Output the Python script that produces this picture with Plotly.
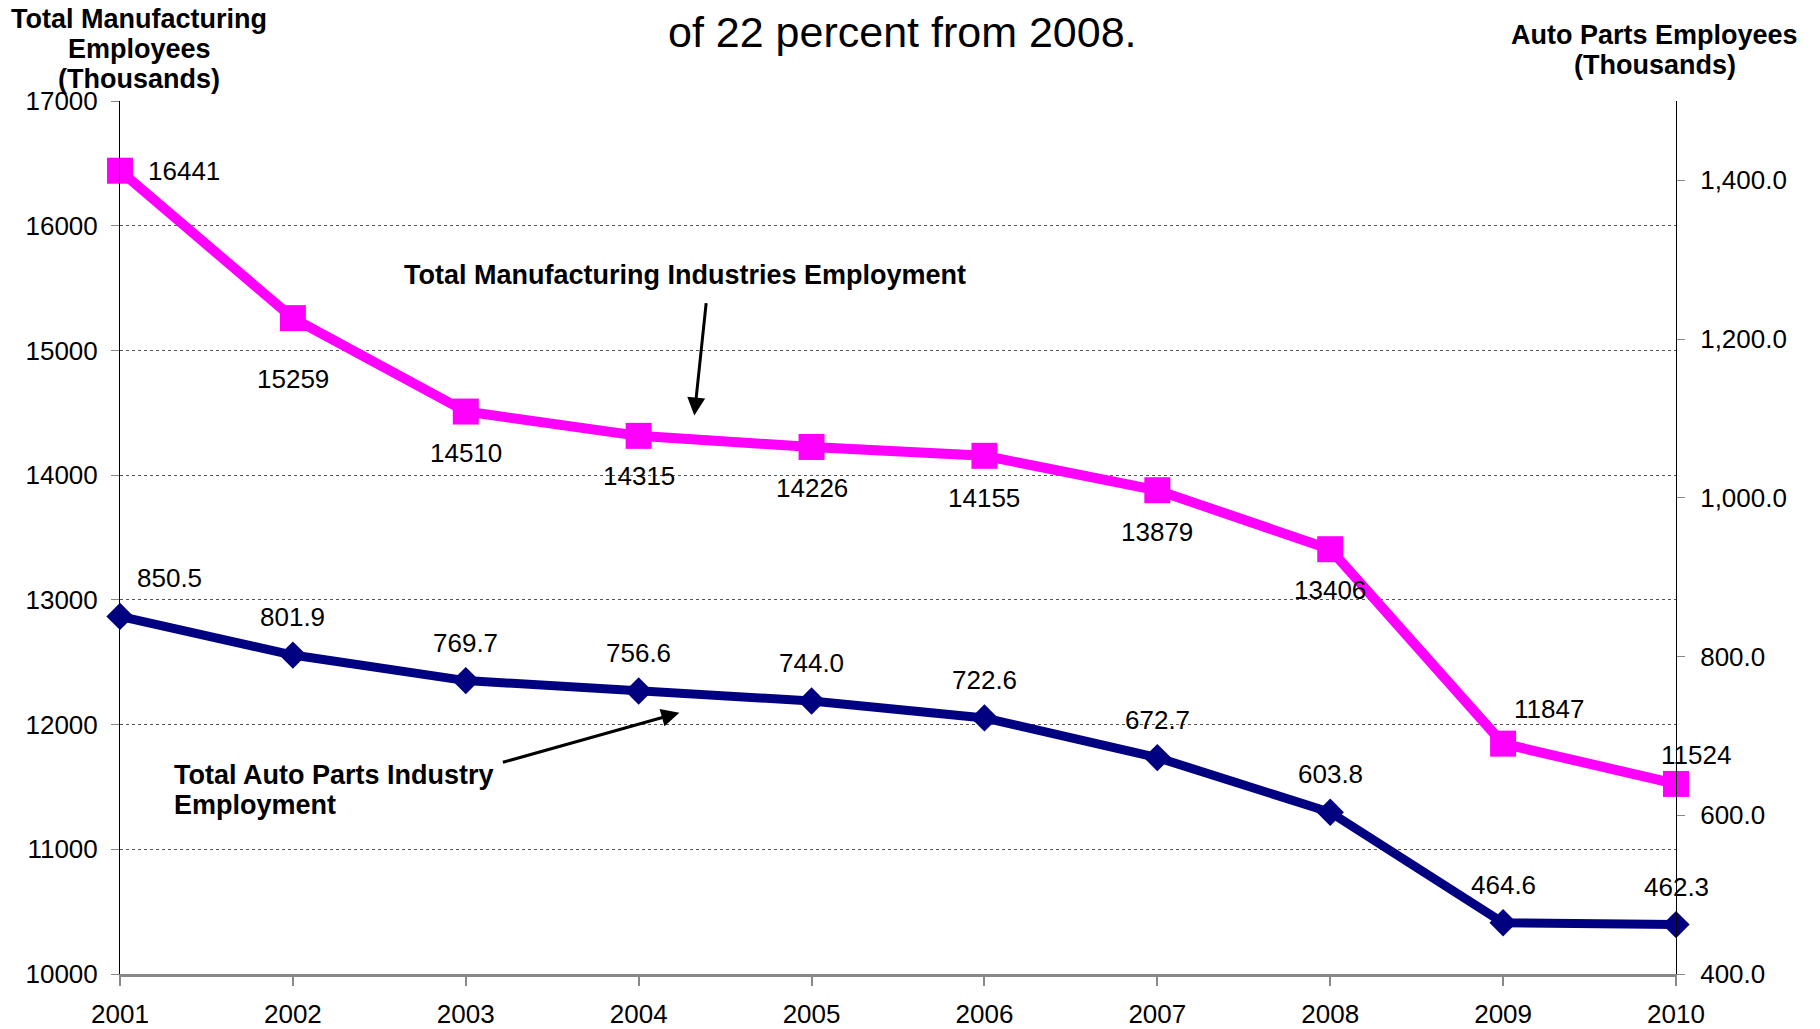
import plotly.graph_objects as go

# ---- data ----
years = [2001, 2002, 2003, 2004, 2005, 2006, 2007, 2008, 2009, 2010]
manufacturing = [16441, 15259, 14510, 14315, 14226, 14155, 13879, 13406, 11847, 11524]
auto_parts = [850.5, 801.9, 769.7, 756.6, 744.0, 722.6, 672.7, 603.8, 464.6, 462.3]
left_ticks = [10000, 11000, 12000, 13000, 14000, 15000, 16000, 17000]
right_ticks = [400, 600, 800, 1000, 1200, 1400]

# ---- label offsets (pixels, styling only) ----
manu_label_shift = [(64, 0), (0, -61), (0, -41), (0, -40), (0, -41), (0, -42),
                    (0, -42), (0, -41), (46, 35), (20, 29)]
auto_label_shift = [(49, 38), (0, 38), (0, 38), (0, 38), (0, 38), (0, 38),
                    (0, 38), (0, 38), (0, 38), (0, 38)]

FONT = "Liberation Sans, Arial, sans-serif"
MAGENTA = "#FF00FF"
NAVY = "#000080"

fig = go.Figure()
fig.add_trace(go.Scatter(
    x=years, y=manufacturing, mode="lines+markers",
    line=dict(color=MAGENTA, width=10),
    marker=dict(symbol="square", size=26, color=MAGENTA),
    cliponaxis=False, name="Total Manufacturing", yaxis="y"))
fig.add_trace(go.Scatter(
    x=years, y=auto_parts, mode="lines+markers",
    line=dict(color=NAVY, width=9),
    marker=dict(symbol="diamond", size=21, color=NAVY),
    cliponaxis=False, name="Auto Parts", yaxis="y2"))

annotations = []
for x, v, (dx, dy) in zip(years, manufacturing, manu_label_shift):
    annotations.append(dict(x=x, y=v, xref="x", yref="y", text=str(v),
                            showarrow=False, xshift=dx, yshift=dy,
                            font=dict(family=FONT, size=26, color="black")))
for x, v, (dx, dy) in zip(years, auto_parts, auto_label_shift):
    annotations.append(dict(x=x, y=v, xref="x", yref="y2", text=f"{v:.1f}",
                            showarrow=False, xshift=dx, yshift=dy,
                            font=dict(family=FONT, size=26, color="black")))


def line_note(text, x, y, size, xanchor="center", bold=True):
    return dict(x=x, y=y, xref="paper", yref="paper",
                text=f"<b>{text}</b>" if bold else text, showarrow=False,
                xanchor=xanchor, yanchor="middle",
                font=dict(family=FONT, size=size, color="black"))


# title (visible line)
annotations.append(line_note("of 22 percent from 2008.", 0.5027, 1.079, 43, bold=False))
# left axis title
annotations.append(line_note("Total Manufacturing", 0.0125, 1.0944, 27))
annotations.append(line_note("Employees", 0.0125, 1.0599, 27))
annotations.append(line_note("(Thousands)", 0.0125, 1.0252, 27))
# right axis title
annotations.append(line_note("Auto Parts Employees", 0.9865, 1.0758, 27))
annotations.append(line_note("(Thousands)", 0.9865, 1.0412, 27))

# series callouts
annotations.append(line_note("Total Manufacturing Industries Employment", 0.3633, 0.8007, 27))
annotations.append(dict(x=0.3691, y=0.6397, xref="paper", yref="paper",
                        text="", showarrow=True, ax=12, ay=-114,
                        arrowhead=2, arrowsize=1.2, arrowwidth=3, arrowcolor="black"))
annotations.append(line_note("Total Auto Parts Industry", 0.0337, 0.2275, 27, xanchor="left"))
annotations.append(line_note("Employment", 0.0337, 0.1931, 27, xanchor="left"))
annotations.append(dict(x=0.3595, y=0.2993, xref="paper", yref="paper",
                        text="", showarrow=True, ax=-178, ay=50,
                        arrowhead=2, arrowsize=1.2, arrowwidth=3, arrowcolor="black"))

fig.update_layout(
    width=1820, height=1029,
    margin=dict(l=120, r=144, t=101, b=55, autoexpand=False),
    paper_bgcolor="white", plot_bgcolor="white",
    showlegend=False,
    font=dict(family=FONT, size=26, color="black"),
    annotations=annotations,
    xaxis=dict(range=[2001, 2010], tickvals=years, ticktext=[str(y) for y in years],
               showgrid=False, zeroline=False, showline=True, linecolor="#888888",
               linewidth=3, ticks="outside", tickcolor="#888888", ticklen=9,
               tickwidth=2, ticklabelstandoff=6, automargin=False,
               tickfont=dict(family=FONT, size=26, color="black")),
    yaxis=dict(range=[10000, 17000], tickvals=left_ticks, tickformat="d",
               showgrid=True, gridcolor="#555555", griddash="dot", gridwidth=1,
               zeroline=False, showline=True, linecolor="black", linewidth=1,
               ticks="outside", tickcolor="#888888", ticklen=8, tickwidth=1,
               ticklabelstandoff=8, automargin=False,
               tickfont=dict(family=FONT, size=26, color="black")),
    yaxis2=dict(range=[400, 1500], tickvals=right_ticks, tickformat=",.1f",
                overlaying="y", side="right", showgrid=False, zeroline=False,
                showline=True, linecolor="black", linewidth=1,
                ticks="outside", tickcolor="#888888", ticklen=8, tickwidth=1,
                ticklabelstandoff=10, automargin=False,
                tickfont=dict(family=FONT, size=26, color="black")),
)

fig.write_html("out.html", config={"displayModeBar": False},
               post_script="document.body.style.margin='0';document.body.style.overflow='hidden';")
